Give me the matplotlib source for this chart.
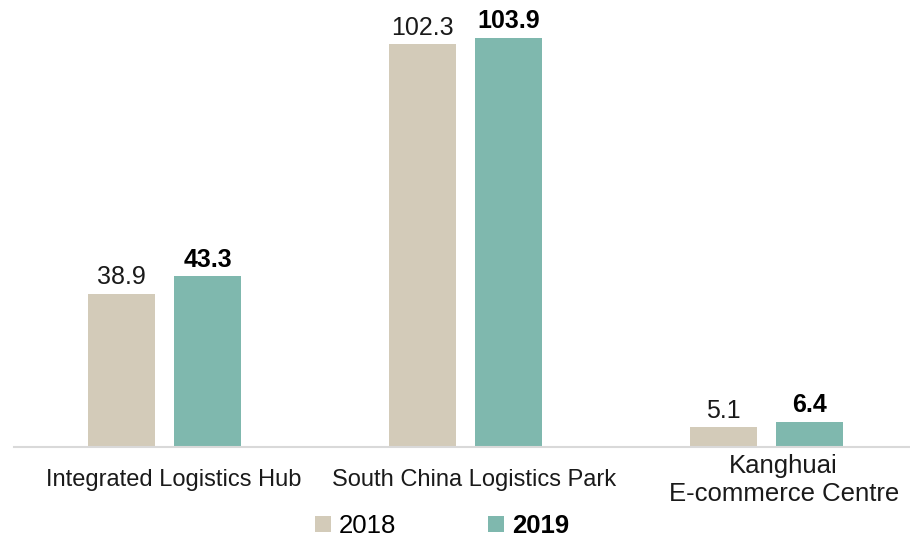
import matplotlib
matplotlib.use("Agg")
import matplotlib.pyplot as plt
from matplotlib.patches import Patch
import numpy as np

categories = ["Integrated Logistics Hub", "South China Logistics Park", "Kanghuai\nE-commerce Centre"]
years = ["2018", "2019"]
values_2018 = [38.9, 102.3, 5.1]
values_2019 = [43.3, 103.9, 6.4]

c2018 = "#D3CBB9"
c2019 = "#7FB8AE"

plt.rcParams["font.family"] = ["Liberation Sans", "DejaVu Sans"]

fig = plt.figure(figsize=(9.10, 5.37), dpi=100)
ax = fig.add_axes([14 / 910, 90 / 537, 903 / 910, 447 / 537])

x = np.arange(len(categories))
w = 0.223
off = 0.1437
b1 = ax.bar(x - off, values_2018, width=w, color=c2018)
b2 = ax.bar(x + off, values_2019, width=w, color=c2019)

for rect, v in zip(b1, values_2018):
    ax.text(rect.get_x() + rect.get_width() / 2, v + 1.1, f"{v:.1f}",
            ha="center", va="bottom", fontsize=18, color="#1a1a1a")
for rect, v in zip(b2, values_2019):
    ax.text(rect.get_x() + rect.get_width() / 2, v + 1.1, f"{v:.1f}",
            ha="center", va="bottom", fontsize=18, fontweight="bold", color="#000000")

ax.set_xlim(-0.5, 2.5)
ax.set_ylim(0, 113.5)
ax.set_yticks([])
# labels sit a little right of the group centres in the original
ax.set_xticks(x + np.array([0.03, 0.03, 0.057]))
ax.set_xticklabels(categories, fontsize=17, color="#1a1a1a", linespacing=1.2)
for lbl in ax.get_xticklabels():
    lbl.set_verticalalignment("center")
ax.get_xticklabels()[2].set_fontsize(18.5)
ax.tick_params(axis="x", length=0, pad=24)

for s in ["top", "right", "left"]:
    ax.spines[s].set_visible(False)
ax.spines["bottom"].set_color("#D9D9D9")
ax.spines["bottom"].set_linewidth(1.5)

handles = [Patch(facecolor=c2018, edgecolor="none"), Patch(facecolor=c2019, edgecolor="none")]
leg = fig.legend(handles, years, loc="center", bbox_to_anchor=(442 / 910, 11 / 537),
                 ncol=2, frameon=False, fontsize=18.5, handlelength=0.62, handleheight=0.6,
                 handletextpad=0.31, columnspacing=3.6, borderpad=0)
leg.get_texts()[1].set_fontweight("bold")

fig.savefig("out.png", dpi=100)
